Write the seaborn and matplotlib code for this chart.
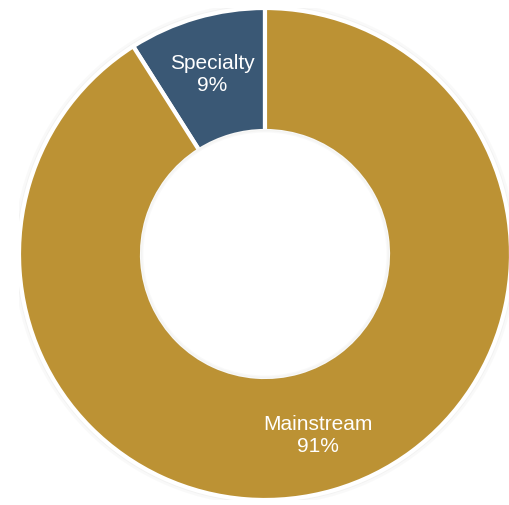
import matplotlib
matplotlib.use("Agg")
import matplotlib.pyplot as plt
import seaborn as sns
from matplotlib.patches import Circle

segments = ["Specialty", "Mainstream"]
shares = [9, 91]
segment_colors = ["#3A5875", "#BC9234"]

sns.set_theme(style="white")
plt.rcParams["font.family"] = ["Liberation Sans", "DejaVu Sans"]

fig = plt.figure(figsize=(5.10, 5.06), dpi=100)
fig.patch.set_facecolor("white")
ax = fig.add_axes([19 / 510, 5 / 506, 492 / 510, 492 / 506])

palette = sns.color_palette(segment_colors)

# soft halo around the ring
for r, a in [(1.022, 0.05), (1.012, 0.07)]:
    ax.add_patch(Circle((0, 0), r, facecolor="#9a9a90", alpha=a, edgecolor="none", zorder=0))

labels_iter = iter(segments)


def fmt(pct):
    name = next(labels_iter)
    return f"{name}\n{pct:.0f}%"


ax.pie(
    shares,
    colors=palette,
    startangle=90,
    counterclock=True,
    radius=1.0,
    wedgeprops=dict(width=0.5, edgecolor="white", linewidth=3),
    autopct=lambda p: fmt(p),
    pctdistance=0.765,
    textprops=dict(color="white", fontsize=15, linespacing=1.2),
)

# inner shadow of the hole
for r, a in [(0.505, 0.06), (0.498, 0.05)]:
    ax.add_patch(Circle((0, 0), r, facecolor="none", edgecolor="#9a9a90", alpha=a, linewidth=2, zorder=3))
ax.add_patch(Circle((0, 0), 0.494, facecolor="white", edgecolor="none", zorder=4))

ax.set_xlim(-1, 1)
ax.set_ylim(-1, 1)
ax.set_aspect("equal")
ax.axis("off")

fig.savefig("out.png", dpi=100, facecolor="white")
